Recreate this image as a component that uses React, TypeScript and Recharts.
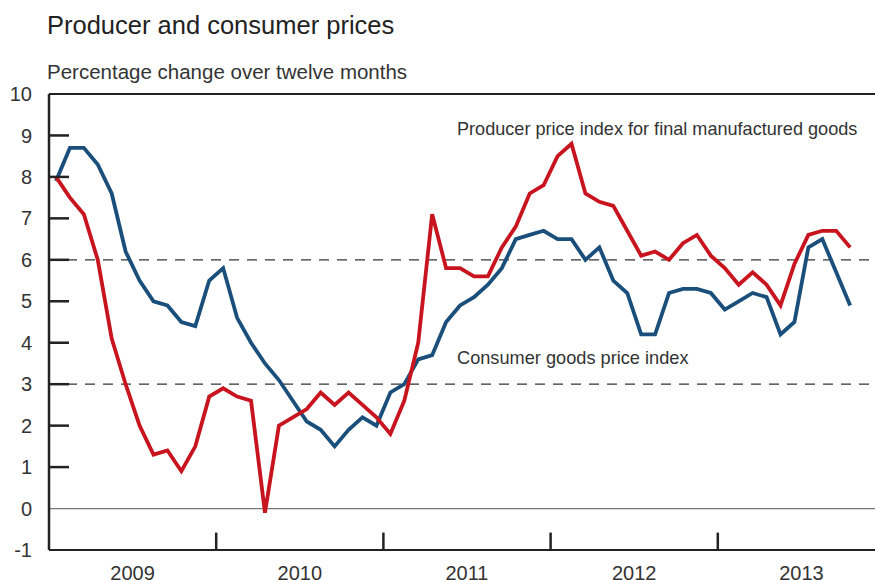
import React from "react";
import { LineChart, Line, XAxis, YAxis, ReferenceLine } from "recharts";

// monthly, Jan 2009 - Oct 2013, % change over twelve months
const years = ["2009", "2010", "2011", "2012", "2013"];

const producerPrices = [
  8.0, 7.5, 7.1, 6.0, 4.1, 3.0, 2.0, 1.3, 1.4, 0.9, 1.5, 2.7,
  2.9, 2.7, 2.6, -0.1, 2.0, 2.2, 2.4, 2.8, 2.5, 2.8, 2.5, 2.2,
  1.8, 2.6, 4.0, 7.1, 5.8, 5.8, 5.6, 5.6, 6.3, 6.8, 7.6, 7.8,
  8.5, 8.8, 7.6, 7.4, 7.3, 6.7, 6.1, 6.2, 6.0, 6.4, 6.6, 6.1,
  5.8, 5.4, 5.7, 5.4, 4.9, 5.9, 6.6, 6.7, 6.7, 6.3,
];

const consumerPrices = [
  7.9, 8.7, 8.7, 8.3, 7.6, 6.2, 5.5, 5.0, 4.9, 4.5, 4.4, 5.5,
  5.8, 4.6, 4.0, 3.5, 3.1, 2.6, 2.1, 1.9, 1.5, 1.9, 2.2, 2.0,
  2.8, 3.0, 3.6, 3.7, 4.5, 4.9, 5.1, 5.4, 5.8, 6.5, 6.6, 6.7,
  6.5, 6.5, 6.0, 6.3, 5.5, 5.2, 4.2, 4.2, 5.2, 5.3, 5.3, 5.2,
  4.8, 5.0, 5.2, 5.1, 4.2, 4.5, 6.3, 6.5, 5.7, 4.9,
];

const yTicks = [-1, 0, 1, 2, 3, 4, 5, 6, 7, 8, 9, 10];
const dashedLevels = [3, 6];

const data = producerPrices.map((p, i) => ({
  t: i + 0.5,
  ppi: p,
  cpi: consumerPrices[i],
}));

const yearCenters = years.map((_, i) => i * 12 + 6);
const yearBounds = years.slice(1).map((_, i) => (i + 1) * 12);

const FONT = "'Liberation Sans', Arial, sans-serif";
const TEXT = "#333";
const RED = "#c8141e";
const BLUE = "#1b4f7b";

const YTick = (props: any) => {
  const { x, y, payload } = props;
  const v = payload.value;
  return (
    <g>
      {v > 0 && v < 10 && (
        <line x1={x + 17} x2={x + 37} y1={y} y2={y} stroke="#222" strokeWidth={2.5} />
      )}
      <text x={x} y={y} dy="0.355em" textAnchor="end" fontSize={20} fill={TEXT} fontFamily={FONT}>
        {v}
      </text>
    </g>
  );
};

export default function App() {
  return (
    <div
      style={{
        position: "absolute",
        left: 0,
        top: 0,
        width: 875,
        height: 580,
        overflow: "hidden",
        background: "#fff",
        fontFamily: FONT,
      }}
    >
      <LineChart
        width={900}
        height={580}
        data={data}
        margin={{ top: 94, right: 15, left: 0, bottom: 0 }}
      >
        <XAxis
          dataKey="t"
          type="number"
          domain={[0, 60]}
          ticks={yearCenters}
          interval={0}
          tickFormatter={(v) => years[(v - 6) / 12]}
          tickLine={false}
          tickSize={0}
          tickMargin={16}
          axisLine={{ stroke: "#222", strokeWidth: 2 }}
          tick={{ fontSize: 20, fill: TEXT, fontFamily: FONT }}
          height={30}
        />
        <YAxis
          type="number"
          domain={[-1, 10]}
          ticks={yTicks}
          interval={0}
          width={49}
          tickLine={false}
          tickSize={0}
          tickMargin={17}
          axisLine={{ stroke: "#222", strokeWidth: 2.5 }}
          tick={<YTick />}
        />
        <ReferenceLine y={10} stroke="#222" strokeWidth={2} />
        <ReferenceLine y={0} stroke="#777" strokeWidth={1.2} />
        {dashedLevels.map((lv) => (
          <ReferenceLine key={lv} y={lv} stroke="#333" strokeWidth={1.3} strokeDasharray="10 8" />
        ))}
        {yearBounds.map((b) => (
          <ReferenceLine
            key={b}
            segment={[{ x: b, y: -1 }, { x: b, y: -0.58 }]}
            stroke="#222"
            strokeWidth={2.5}
          />
        ))}
        <Line
          type="linear"
          dataKey="cpi"
          stroke={BLUE}
          strokeWidth={3.8}
          dot={false}
          isAnimationActive={false}
        />
        <Line
          type="linear"
          dataKey="ppi"
          stroke={RED}
          strokeWidth={3.8}
          dot={false}
          isAnimationActive={false}
        />
      </LineChart>
      <svg
        width={875}
        height={580}
        style={{ position: "absolute", left: 0, top: 0, pointerEvents: "none" }}
      >
        <text x={47} y={34} fontSize={25.5} fill="#222" fontFamily={FONT}>
          Producer and consumer prices
        </text>
        <text x={47} y={79} fontSize={20.5} fill={TEXT} fontFamily={FONT}>
          Percentage change over twelve months
        </text>
        <text x={457} y={135} fontSize={18.1} fill={TEXT} fontFamily={FONT}>
          Producer price index for final manufactured goods
        </text>
        <text x={457} y={364} fontSize={18.2} fill={TEXT} fontFamily={FONT}>
          Consumer goods price index
        </text>
      </svg>
    </div>
  );
}
